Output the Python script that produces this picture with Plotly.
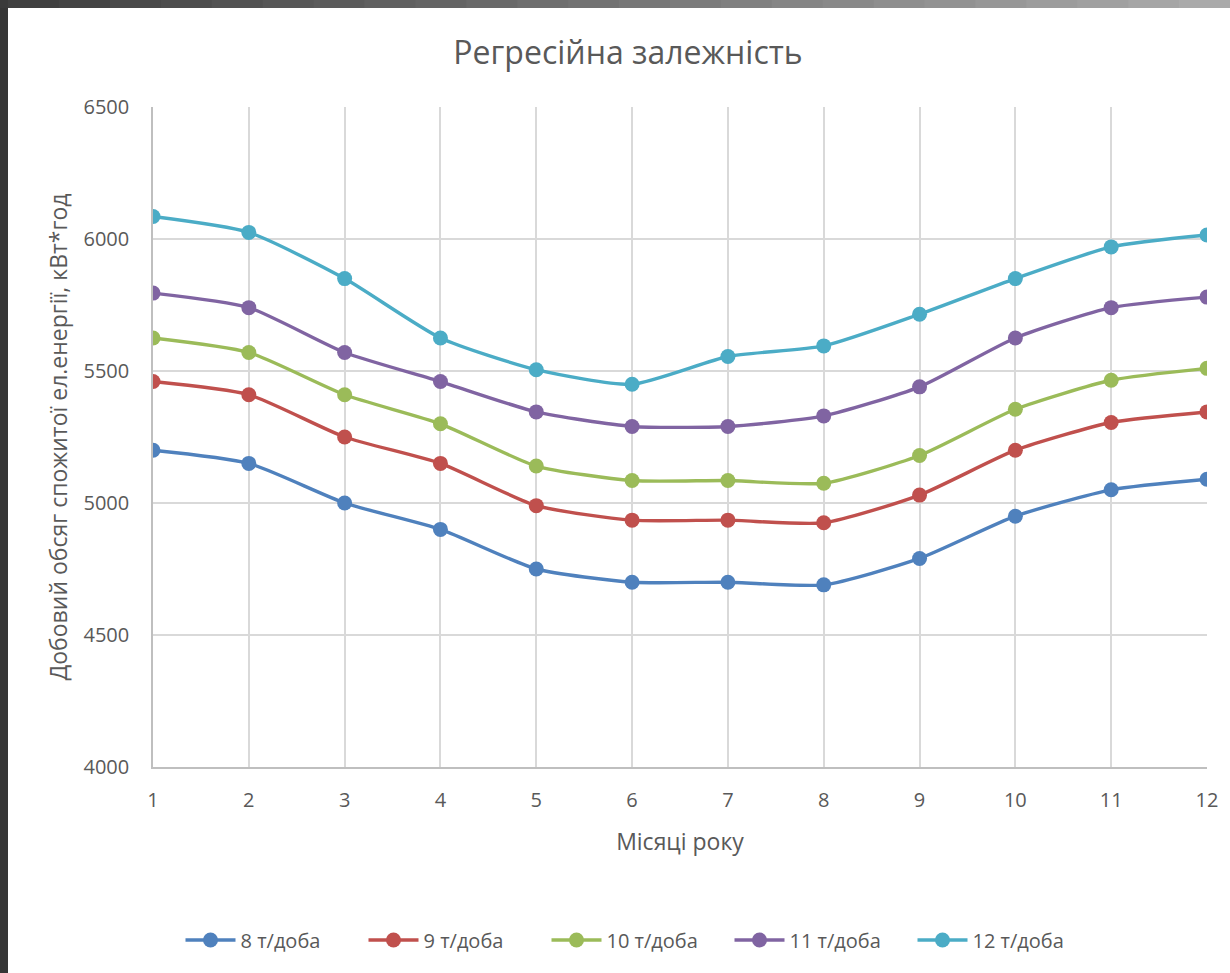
import plotly.graph_objects as go

months = list(range(1, 13))

series_names = ["8 т/доба", "9 т/доба", "10 т/доба", "11 т/доба", "12 т/доба"]
load_8 = [5200, 5150, 5000, 4900, 4750, 4700, 4700, 4690, 4790, 4950, 5050, 5090]
load_9 = [5460, 5410, 5250, 5150, 4990, 4935, 4935, 4925, 5030, 5200, 5305, 5345]
load_10 = [5625, 5570, 5410, 5300, 5140, 5085, 5085, 5075, 5180, 5355, 5465, 5510]
load_11 = [5795, 5740, 5570, 5460, 5345, 5290, 5290, 5330, 5440, 5625, 5740, 5780]
load_12 = [6085, 6025, 5850, 5625, 5505, 5450, 5555, 5595, 5715, 5850, 5970, 6015]
colors = ["#4F81BD", "#C0504D", "#9BBB59", "#8064A2", "#4BACC6"]

W, H = 1230, 973
L, R, T, B = 153, 23, 107, 206
FONT = "Open Sans"
TEXT = "#595959"

fig = go.Figure()
for name, vals, col in zip(series_names, [load_8, load_9, load_10, load_11, load_12], colors):
    fig.add_trace(go.Scatter(
        x=months, y=vals, name=name, mode="lines+markers",
        line=dict(color=col, width=3.4, shape="spline", smoothing=0.6),
        marker=dict(color=col, size=15),
    ))

# window frame: dark strip on the left, gradient bar on top
pw, ph = W - L - R, H - T - B
def px_x(p):
    return (p - L) / pw
def px_y(p):
    return (H - B - p) / ph

shapes = [dict(type="rect", xref="paper", yref="paper",
               x0=px_x(0), x1=px_x(8), y0=px_y(H), y1=px_y(0),
               fillcolor="#363636", line=dict(width=0), layer="above")]
steps = 24
for i in range(steps):
    a = px_x(8 + (W - 8) * i / steps)
    b = px_x(8 + (W - 8) * (i + 1) / steps)
    t = i / (steps - 1)
    g = int(0x40 + (0xAA - 0x40) * t)
    shapes.append(dict(type="rect", xref="paper", yref="paper",
                       x0=a, x1=b + 0.001, y0=px_y(8), y1=px_y(0),
                       fillcolor=f"rgb({g},{g},{g})", line=dict(width=0), layer="above"))
shapes.append(dict(type="rect", xref="paper", yref="paper",
                   x0=px_x(0), x1=px_x(8), y0=px_y(8), y1=px_y(0),
                   fillcolor="#3a3a3a", line=dict(width=0), layer="above"))

fig.update_layout(
    width=W, height=H,
    margin=dict(l=L, r=R, t=T, b=B),
    paper_bgcolor="white", plot_bgcolor="white",
    font=dict(family=FONT, color=TEXT),
    title=dict(text="Регресійна залежність", x=628 / W, xanchor="center",
               y=(H - 53) / H, yanchor="middle",
               font=dict(size=32, color=TEXT, family=FONT)),
    xaxis=dict(range=[1, 12], tickmode="array", tickvals=months,
               showgrid=True, gridcolor="#D9D9D9", gridwidth=1.5,
               showline=True, linecolor="#BFBFBF", linewidth=1.5,
               zeroline=False, ticks="", ticklabelstandoff=14,
               tickfont=dict(size=20, color=TEXT),
               title=dict(text="Місяці року", font=dict(size=23, color=TEXT), standoff=22)),
    yaxis=dict(range=[4000, 6500], tickvals=[4000, 4500, 5000, 5500, 6000, 6500],
               showgrid=True, gridcolor="#D9D9D9", gridwidth=1.5,
               showline=True, linecolor="#BFBFBF", linewidth=1.5,
               zeroline=False, ticks="", ticklabelstandoff=18,
               tickfont=dict(size=20, color=TEXT),
               title=dict(text="Добовий обсяг спожитої ел.енергії, кВт*год",
                          font=dict(size=23, color=TEXT), standoff=9)),
    legend=dict(orientation="h", xref="container", yref="container",
                x=638 / W, xanchor="center", y=(H - 940) / H, yanchor="middle",
                font=dict(size=20, color=TEXT), itemwidth=50,
                entrywidth=118, entrywidthmode="pixels"),
    shapes=shapes,
    showlegend=True,
)

fig.write_html("out.html")
